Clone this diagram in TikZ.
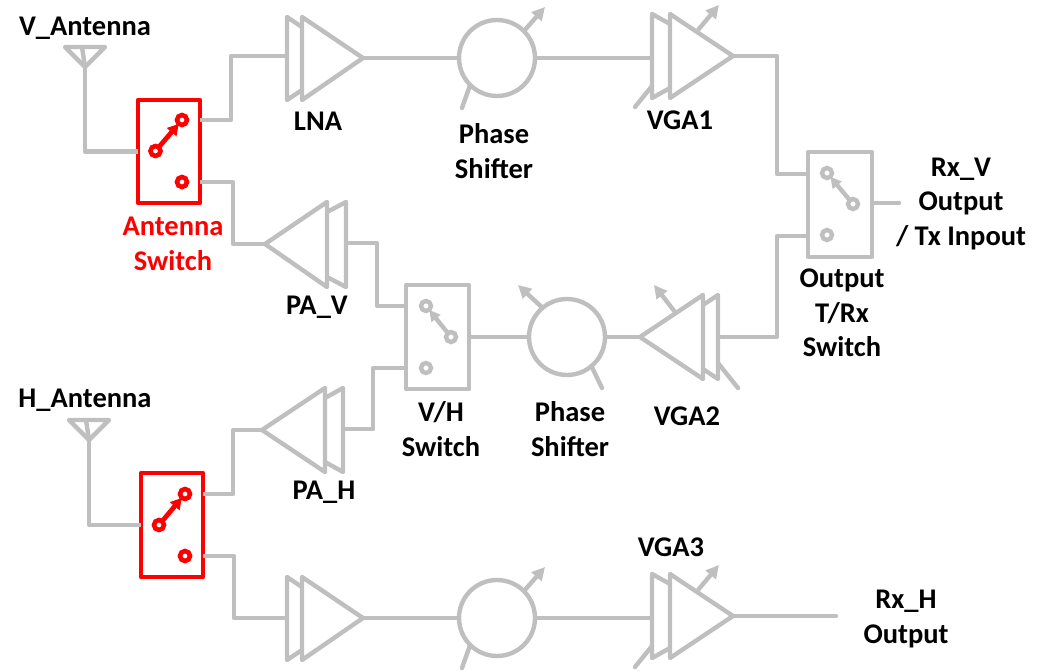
\documentclass[tikz,border=0pt]{standalone}
\usepackage{fontspec}
\setmainfont{Carlito}
\usetikzlibrary{arrows.meta}
\definecolor{wiregrey}{HTML}{BFBFBF}
\definecolor{swred}{HTML}{FF0000}
\tikzset{
  wire/.style={draw=wiregrey,line width=4.4pt,line join=round},
  redwire/.style={draw=swred,line width=4.8pt,line join=round},
  tune/.style={wire,-{Triangle[length=13pt,width=13pt]}},
  redtune/.style={redwire,-{Triangle[length=11pt,width=12pt]}},
  label/.style={font=\bfseries\fontsize{28.5}{34.6}\selectfont,align=center,inner sep=0pt,text=black},
  redlabel/.style={label,text=swred},
  shifter/.style={circle,wire,minimum size=76pt,inner sep=0pt,outer sep=0pt},
  swbox/.style={rectangle,wire,inner sep=0pt,outer sep=0pt},
  redbox/.style={rectangle,redwire,inner sep=0pt,outer sep=0pt},
  contact/.style={circle,draw=wiregrey,line width=4.4pt,minimum size=10pt,inner sep=0pt,outer sep=0pt},
  redcontact/.style={circle,draw=swred,line width=4.6pt,minimum size=10pt,inner sep=0pt,outer sep=0pt},
}
% name, x back bar, x front bar, x tip, y tip, y top, y bottom
\newcommand{\ampshape}[7]{%
  \draw[wire] (#3,#6+10) -- (#2,#6) -- (#2,#7) -- (#3,#7-10);
  \draw[wire] (#3,#6) -- (#4,#5) -- (#3,#7) -- cycle;
  \coordinate (#1-back) at (#2,#5);
  \coordinate (#1-tip) at (#4,#5);
}
% name, apex x, apex y
\newcommand{\antennashape}[3]{%
  \coordinate (#1) at (#2,#3);
  \draw[wire] (#2-20,#3-20) -- (#2+20,#3-20) -- (#1) -- cycle;
  \draw[wire] (#1) -- (#2-3,#3-20);
}
\begin{document}
\begin{tikzpicture}[x=1pt,y=-1pt]
\useasboundingbox (0,0) rectangle (1046,671);

% antennas
\antennashape{antv}{85}{67}
\antennashape{anth}{89}{440}

% switches
\node[redbox,minimum width=62pt,minimum height=103pt] (sw1) at (169,151.5) {};
\node[redcontact] (sw1a) at (182,120) {};
\node[redcontact] (sw1c) at (155.5,151) {};
\node[redcontact] (sw1b) at (182,182) {};
\draw[redtune] (sw1c) -- (sw1a);

\node[redbox,minimum width=62pt,minimum height=104pt] (sw2) at (172,525) {};
\node[redcontact] (sw2a) at (185,494) {};
\node[redcontact] (sw2c) at (159,525) {};
\node[redcontact] (sw2b) at (185,556) {};
\draw[redtune] (sw2c) -- (sw2a);

\node[swbox,minimum width=63pt,minimum height=104pt] (sw3) at (437.5,337) {};
\node[contact] (sw3a) at (426,306) {};
\node[contact] (sw3c) at (451,337) {};
\node[contact] (sw3b) at (426,368) {};
\draw[wire,-{Triangle[length=11pt,width=11pt]}] (sw3c) -- (sw3a);

\node[swbox,minimum width=64pt,minimum height=105pt] (sw4) at (840,204.5) {};
\node[contact] (sw4a) at (827,173) {};
\node[contact] (sw4c) at (853,204) {};
\node[contact] (sw4b) at (827,235) {};
\draw[wire,-{Triangle[length=11pt,width=11pt]}] (sw4c) -- (sw4a);

% amplifiers
\ampshape{lna}{287}{302}{363}{58}{17}{100}
\ampshape{vgaone}{652}{670}{733}{56}{14}{98}
\ampshape{pav}{346}{327}{265}{244}{202}{287}
\ampshape{vgatwo}{718}{703}{640}{337}{295}{379}
\ampshape{pah}{343}{325}{262}{430}{388}{472}
\ampshape{lnatwo}{287}{302}{363}{618}{577}{660}
\ampshape{vgathree}{652}{670}{733}{616}{574}{658}

% phase shifters
\node[shifter] (ps1) at (497,58) {};
\node[shifter] (ps2) at (567,337) {};
\node[shifter] (ps3) at (497,618) {};

% tuning arrows and control stubs
\coordinate (t1) at (545,7);
\draw[tune] (ps1.45) -- (t1);
\coordinate (s1) at (462,108);
\draw[wire,line cap=round] (ps1.225) -- (s1);
\coordinate (t2) at (719,5);
\coordinate (t2a) at (698,30);
\draw[tune] (t2a) -- (t2);
\coordinate (s2) at (635,107);
\coordinate (s2a) at (652,86);
\draw[wire,line cap=round] (s2a) -- (s2);
\coordinate (t3) at (518,285);
\draw[tune] (ps2.130) -- (t3);
\coordinate (s3) at (602,388);
\draw[wire,line cap=round] (ps2.-50) -- (s3);
\coordinate (t4) at (654,285);
\coordinate (t4a) at (675,312);
\draw[tune] (t4a) -- (t4);
\coordinate (s4) at (738,388);
\coordinate (s4a) at (718,363);
\draw[wire,line cap=round] (s4a) -- (s4);
\coordinate (t5) at (545,567);
\draw[tune] (ps3.45) -- (t5);
\coordinate (s5) at (462,668);
\draw[wire,line cap=round] (ps3.225) -- (s5);
\coordinate (t6) at (719,565);
\coordinate (t6a) at (698,590);
\draw[tune] (t6a) -- (t6);
\coordinate (s6) at (635,667);
\coordinate (s6a) at (652,646);
\draw[wire,line cap=round] (s6a) -- (s6);

% connectors
\draw[wire] (antv) |- (sw1.west);
\draw[wire] (anth) |- (sw2.west);
\draw[wire] (sw1.east |- sw1a) -- (231,120) -- (231,56) -- (lna-back |- 0,56);
\draw[wire] (lna-tip) -- (ps1.west);
\draw[wire] (ps1.east) -- (vgaone-back |- ps1);
\draw[wire] (vgaone-tip) -- (777,56) -- (777,174) -- (sw4.west |- 0,174);
\draw[wire] (sw4.west |- 0,236) -- (777,236) -- (777,337) -- (vgatwo-back);
\draw[wire] (vgatwo-tip) -- (ps2.east);
\draw[wire] (ps2.west) -- (sw3.east |- ps2);
\draw[wire] (sw3.west |- sw3a) -- (377,306) -- (377,243) -- (pav-back |- 0,243);
\draw[wire] (sw3.west |- sw3b) -- (373,368) -- (373,429) -- (pah-back |- 0,429);
\draw[wire] (sw1.east |- sw1b) -- (233,182) -- (233,244) -- (pav-tip);
\draw[wire] (pah-tip) -- (233,430) -- (233,494) -- (sw2.east |- sw2a);
\draw[wire] (sw2.east |- sw2b) -- (234,556) -- (234,618) -- (lnatwo-back);
\draw[wire] (lnatwo-tip) -- (ps3.west);
\draw[wire] (ps3.east) -- (vgathree-back |- ps3);
\coordinate (outv) at (899,203);
\draw[wire,line cap=round] (sw4.east |- outv) -- (outv);
\coordinate (outh) at (836,616);
\draw[wire,line cap=round] (vgathree-tip) -- (outh);

% labels
\node[label] (l1) at (85,28) {V\_Antenna};
\node[label] (l2) at (318,121) {LNA};
\node[label] (l3) at (494,151) {Phase\\Shifter};
\node[label] (l4) at (680,120) {VGA1};
\node[redlabel] (l5) at (173,244) {Antenna\\Switch};
\node[label] (l6) at (317,307) {PA\_V};
\node[label] (l7) at (441,429) {V/H\\Switch};
\node[label] (l8) at (570,429) {Phase\\Shifter};
\node[label] (l9) at (687,416) {VGA2};
\node[label] (l10) at (842,313) {Output\\T/Rx\\Switch};
\node[label] (l11) at (961,204) {Rx\_V\\Output\\/ Tx Inpout};
\node[label] (l12) at (85,400) {H\_Antenna};
\node[label] (l13) at (324,492) {PA\_H};
\node[label] (l14) at (671,547) {VGA3};
\node[label] (l15) at (906,619) {Rx\_H\\Output};
\end{tikzpicture}
\end{document}
